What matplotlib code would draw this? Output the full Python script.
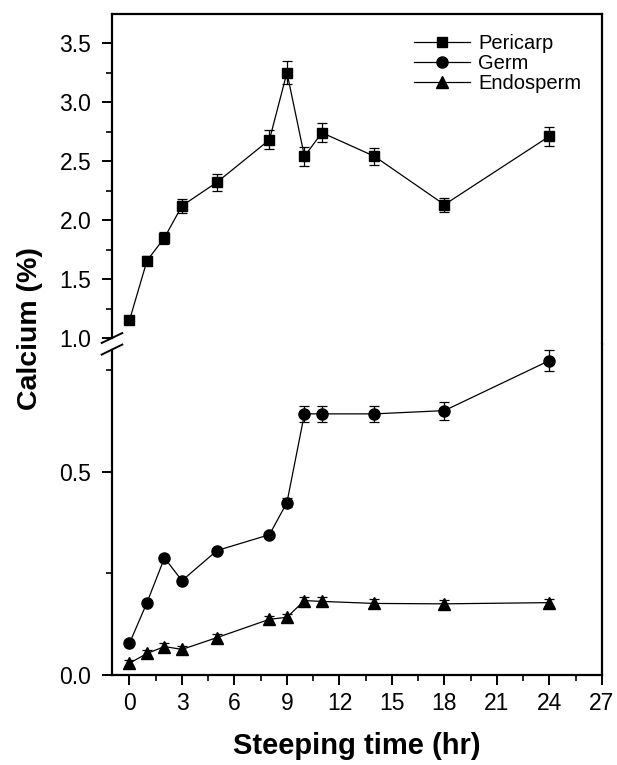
import matplotlib
matplotlib.use('Agg')
import matplotlib.pyplot as plt
from matplotlib.ticker import MultipleLocator

plt.rcParams['font.family'] = ['Liberation Sans', 'DejaVu Sans']

# Datos
tiempo = [0, 1, 2, 3, 5, 8, 9, 10, 11, 14, 18, 24]
pericarpio = [1.15, 1.655, 1.85, 2.12, 2.32, 2.68, 3.25, 2.54, 2.74, 2.54, 2.13, 2.71]
pericarpio_err = [0.02, 0.04, 0.05, 0.06, 0.07, 0.08, 0.10, 0.08, 0.08, 0.07, 0.06, 0.08]
germen = [0.078, 0.178, 0.288, 0.232, 0.306, 0.345, 0.424, 0.642, 0.642, 0.642, 0.650, 0.773]
germen_err = [0.004, 0.004, 0.004, 0.004, 0.004, 0.005, 0.01, 0.02, 0.02, 0.02, 0.022, 0.025]
endospermo = [0.029, 0.053, 0.070, 0.063, 0.092, 0.137, 0.142, 0.183, 0.181, 0.176, 0.175, 0.178]
endospermo_err = [0.008, 0.008, 0.008, 0.008, 0.01, 0.008, 0.008, 0.01, 0.01, 0.01, 0.01, 0.01]

fig = plt.figure(figsize=(6.17, 7.65), dpi=100)
ax_up = fig.add_axes([0.1815, 0.5503, 0.794, 0.4314])
ax_lo = fig.add_axes([0.1815, 0.1176, 0.794, 0.4327], sharex=ax_up)

estilo = dict(color='black', ecolor='black', elinewidth=0.9, capsize=3.5, capthick=0.9, lw=0.9)

for ax in (ax_up, ax_lo):
    c1 = ax.errorbar(tiempo, pericarpio, yerr=pericarpio_err, marker='s', ms=7, **estilo)
    c2 = ax.errorbar(tiempo, germen, yerr=germen_err, marker='o', ms=8, **estilo)
    c3 = ax.errorbar(tiempo, endospermo, yerr=endospermo_err, marker='^', ms=8, **estilo)
    for s in ax.spines.values():
        s.set_linewidth(1.6)
    ax.tick_params(which='major', direction='out', length=7, width=1.4, labelsize=16.5, pad=5)
    ax.tick_params(which='minor', direction='out', length=4, width=1.2)

ax_up.tick_params(axis='y', pad=8)
ax_lo.tick_params(axis='y', pad=8)

ax_up.set_xlim(-1, 27)
ax_up.set_ylim(0.949, 3.746)
ax_lo.set_ylim(0, 0.8137)

ax_up.yaxis.set_major_locator(MultipleLocator(0.5))
ax_up.yaxis.set_minor_locator(MultipleLocator(0.25))
ax_lo.yaxis.set_major_locator(MultipleLocator(0.5))
ax_lo.yaxis.set_minor_locator(MultipleLocator(0.25))
ax_lo.xaxis.set_major_locator(MultipleLocator(3))
ax_lo.xaxis.set_minor_locator(MultipleLocator(1.5))

ax_up.spines['bottom'].set_visible(False)
ax_lo.spines['top'].set_visible(False)
ax_up.tick_params(axis='x', which='both', bottom=False, labelbottom=False)
ax_up.spines['left'].set_bounds(1.0, 3.746)
ax_lo.spines['left'].set_bounds(0, 0.80)

# Marcas de corte del eje
kw = dict(color='black', lw=1.4, clip_on=False)
ax_up.plot([-0.021, 0.021], [1.0 - 0.042, 1.0 + 0.042], transform=ax_up.get_yaxis_transform(), **kw)
ax_lo.plot([-0.021, 0.021], [0.80 - 0.0123, 0.80 + 0.0123], transform=ax_lo.get_yaxis_transform(), **kw)

# Leyenda solo con línea y marcador
ax_up.legend([c1[0], c2[0], c3[0]], ['Pericarp', 'Germ', 'Endosperm'],
             loc='upper right', frameon=False, fontsize=14.5, handlelength=2.8,
             handletextpad=0.4, labelspacing=0.05, borderaxespad=0,
             bbox_to_anchor=(0.975, 0.965))

fig.text(0.5786, 0.0248, 'Steeping time (hr)', fontsize=21, fontweight='bold',
         ha='center', va='center')
fig.text(0.0486, 0.571, 'Calcium (%)', rotation=90, fontsize=20.5, fontweight='bold',
         ha='center', va='center')

fig.savefig('out.png', dpi=100)
